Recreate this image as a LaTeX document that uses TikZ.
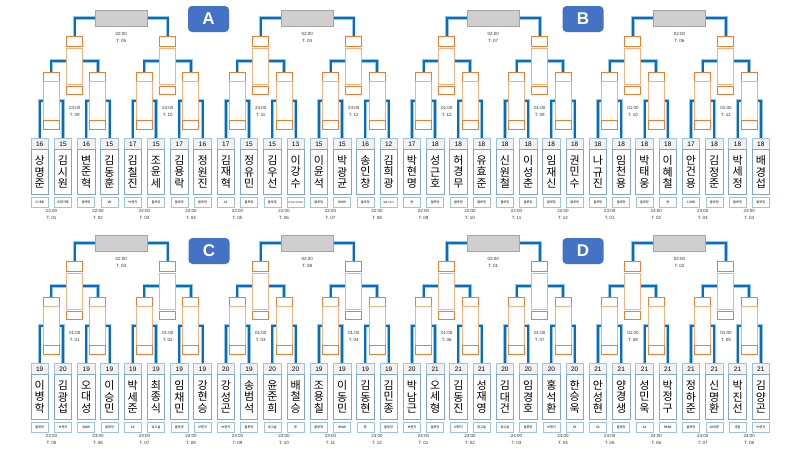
\documentclass[tikz,border=0pt]{standalone}
\usepackage{fontspec}
\setmainfont{Noto Sans CJK KR}
\newfontfamily\latf{Liberation Sans}
\pgfdeclarelayer{bg}
\pgfsetlayers{bg,main}
\definecolor{bl}{HTML}{0070C0}
\definecolor{blsh}{HTML}{9DC3E6}
\definecolor{org}{HTML}{ED7D31}
\definecolor{orgl}{HTML}{F4B183}
\definecolor{grayf}{HTML}{D0CECE}
\definecolor{grayd}{HTML}{A5A5A5}
\definecolor{lblue}{HTML}{9DC3E6}
\definecolor{mblue}{HTML}{7FA3D8}
\definecolor{hdrf}{HTML}{F2F2F2}
\definecolor{tagblue}{HTML}{4472C4}
\newcommand\sm[1]{{\fontsize{2.3}{2.5}\selectfont #1}}
\newcommand\bracketrow[6]{%
\foreach \ix/\num/\na/\nb/\nc/\aff in {#3}{
  \pgfmathsetmacro\cx{39.75+23.26*\ix}
  \node[hdr] (h#1\ix) at (\cx,138+#2) {\num};
  \node[namebox] (n#1\ix) at (\cx,149+#2) {\na\\\nb\\\nc};
  \node[affil] (a#1\ix) at (\cx,197+#2) {\aff};
}
\foreach \p/\tm/\tn in {#4}{
  \pgfmathsetmacro\cx{39.75+23.26*(2*\p+0.5)}
  \pgfmathtruncatemacro\ia{2*\p}
  \pgfmathtruncatemacro\ib{2*\p+1}
  \node[osm, minimum height=9pt] (rt#1\p) at (\cx,72+#2) {};
  \node[otall, minimum height=38.5pt] (r#1\p) at (\cx,81+#2) {};
  \node[osm, minimum height=9pt] (rb#1\p) at (\cx,120+#2) {};
  \node[tlab] (tl#1\p) at (\cx,214.5+#2) {\tm\\T. \tn};
  \begin{pgfonlayer}{bg}
    \draw[bglow] (h#1\ia.north) |- (r#1\p.center) -| (h#1\ib.north);
    \draw[bline] (h#1\ia.north) |- (r#1\p.center) -| (h#1\ib.north);
  \end{pgfonlayer}
}
\foreach \h/\tm/\tn in {#5}{
  \pgfmathsetmacro\cx{39.75+23.26*(4*\h+1.5)}
  \pgfmathtruncatemacro\ia{2*\h}
  \pgfmathtruncatemacro\ib{2*\h+1}
  \node[osm, minimum height=10pt] (st#1\h) at (\cx,36+#2) {};
  \node[otall, minimum height=36pt] (s#1\h) at (\cx,48+#2) {};
  \node[osm, minimum height=8pt] (sb#1\h) at (\cx,86+#2) {};
  \coordinate (sj#1\h) at (\cx,61+#2);
  \node[tlab] (sl#1\h) at (\cx,111+#2) {\tm\\T. \tn};
  \begin{pgfonlayer}{bg}
    \draw[bglow] (rt#1\ia.north) |- (sj#1\h) -| (rt#1\ib.north);
    \draw[bline] (rt#1\ia.north) |- (sj#1\h) -| (rt#1\ib.north);
  \end{pgfonlayer}
}
\foreach \k/\tn in {#6}{
  \pgfmathsetmacro\cx{39.75+23.26*(8*\k+3.5)}
  \pgfmathtruncatemacro\ia{2*\k}
  \pgfmathtruncatemacro\ib{2*\k+1}
  \node[grayb] (g#1\k) at (\cx,18+#2) {};
  \node[tlab] (fl#1\k) at (\cx,37.5+#2) {02:00\\T. \tn};
  \begin{pgfonlayer}{bg}
    \draw[bglow] (st#1\ia.north) |- (g#1\k.west);
    \draw[bglow] (st#1\ib.north) |- (g#1\k.east);
    \draw[bline] (st#1\ia.north) |- (g#1\k.west);
    \draw[bline] (st#1\ib.north) |- (g#1\k.east);
  \end{pgfonlayer}
}
}
\begin{document}
\begin{tikzpicture}[x=1pt,y=-1pt,
  hdr/.style={draw=lblue, fill=hdrf, line width=0.7pt, minimum width=17.5pt, minimum height=11pt, inner sep=0pt, anchor=north, font=\latf\fontsize{6.5}{7}\selectfont},
  namebox/.style={draw=mblue, fill=white, line width=0.7pt, minimum width=17.5pt, minimum height=45pt, inner sep=0pt, anchor=north, align=center, font=\fontsize{11}{11.5}\selectfont},
  affil/.style={draw=lblue, fill=white, line width=0.6pt, minimum width=17pt, minimum height=10pt, inner sep=0pt, anchor=north, font=\fontsize{3.2}{3.5}\selectfont},
  tlab/.style={align=center, inner sep=0pt, font=\latf\fontsize{4.5}{7}\selectfont, text=black!80},
  osm/.style={draw=org, fill=white, line width=0.9pt, minimum width=16pt, inner sep=0pt, anchor=north},
  otall/.style={draw=orgl, fill=white, line width=0.9pt, minimum width=16pt, inner sep=0pt, anchor=north},
  grayb/.style={draw=grayd, fill=grayf, line width=0.8pt, minimum width=52pt, minimum height=16pt, inner sep=0pt},
  bline/.style={draw=bl, line width=2pt},
  bglow/.style={draw=blsh, line width=3.4pt},
  tag/.style={fill=tagblue, rounded corners=4pt, minimum width=41pt, minimum height=26pt, text=white, font=\latf\bfseries\fontsize{17}{17}\selectfont, inner sep=0pt}
]
\useasboundingbox (0,0) rectangle (800,450);
\begin{pgfonlayer}{bg}
\fill[white] (0,0) rectangle (800,450);
\end{pgfonlayer}

\bracketrow{T}{0}{0/16/상/명/준/CUBB, 1/15/김/시/원/포항카톡, 2/16/변/준/혁/블루망, 3/15/김/동/훈/VB, 4/17/김/칠/진/브랜치, 5/15/조/윤/세/블루망, 6/17/김/용/락/블루망, 7/16/정/원/진/블루망, 8/17/김/재/혁/A1, 9/15/정/유/민/블루망, 10/15/김/우/선/블루망, 11/13/이/강/수/\sm{주식회사코리아}, 12/15/이/윤/석/블루망, 13/15/박/광/균/BMW, 14/16/송/인/창/블루망, 15/12/김/희/광/\sm{경북스매시}, 16/17/박/현/명/용, 17/18/성/근/호/블루망, 18/18/허/경/무/블루망, 19/18/유/효/준/블루망, 20/18/신/원/철/블루망, 21/18/이/성/춘/블루망, 22/18/임/재/신/블루망, 23/18/권/민/수/블루망, 24/18/나/규/진/블루망, 25/18/임/천/용/블루망, 26/18/박/태/웅/블루망, 27/18/이/혜/철/용, 28/17/안/건/용/CUBB, 29/18/김/정/준/블루망, 30/18/박/세/정/블루망, 31/18/배/경/섭/블루망}{0/22:00/01, 1/22:00/02, 2/22:00/03, 3/22:00/04, 4/22:00/05, 5/22:00/06, 6/22:00/07, 7/22:00/08, 8/22:00/09, 9/22:00/10, 10/22:00/11, 11/22:00/12, 12/23:00/01, 13/23:00/02, 14/23:00/03, 15/23:00/04}{0/24:00/09, 1/24:00/10, 2/24:00/11, 3/24:00/12, 4/01:00/12, 5/01:00/09, 6/01:00/10, 7/01:00/11}{0/05, 1/04, 2/07, 3/06}

\bracketrow{B}{225}{0/19/이/병/학/블루망, 1/20/김/광/섭/브랜치, 2/19/오/대/성/BMW, 3/19/이/승/민/블루망, 4/19/박/세/준/XX, 5/19/최/종/식/빛고을, 6/19/임/채/민/블루망, 7/19/강/현/승/브랜치, 8/20/강/성/곤/브랜치, 9/19/송/범/석/블루망, 10/20/윤/준/희/빛고을, 11/20/배/철/승/용, 12/19/조/용/칠/블루망, 13/19/이/동/민/BMW, 14/19/김/동/현/용, 15/19/김/민/종/블루망, 16/20/박/남/근/브랜치, 17/21/오/세/형/블루망, 18/21/김/동/진/브랜치, 19/21/성/재/영/빛고을, 20/20/김/대/건/빛고을, 21/20/임/경/호/블루망, 22/20/홍/석/환/브랜치, 23/20/한/승/욱/XX, 24/21/안/성/현/XX, 25/21/양/경/생/블루망, 26/21/성/민/욱/XX, 27/21/박/정/구/BMW, 28/21/정/하/준/블루망, 29/21/신/명/환/XX세종, 30/21/박/진/선/세림, 31/21/김/양/곤/브랜치}{0/23:00/05, 1/23:00/06, 2/23:00/07, 3/23:00/08, 4/23:00/09, 5/23:00/10, 6/23:00/11, 7/23:00/12, 8/24:00/01, 9/24:00/02, 10/24:00/03, 11/24:00/04, 12/24:00/05, 13/24:00/06, 14/24:00/07, 15/24:00/08}{0/01:00/01, 1/01:00/02, 2/01:00/03, 3/01:00/04, 4/01:00/06, 5/01:00/07, 6/01:00/08, 7/01:00/05}{0/03, 1/08, 2/01, 3/02}

\node[tag] (tagA) at (208.5,19) {A};
\node[tag] (tagB) at (583,19) {B};
\node[tag] (tagC) at (209,251) {C};
\node[tag] (tagD) at (583,251) {D};
\end{tikzpicture}
\end{document}
